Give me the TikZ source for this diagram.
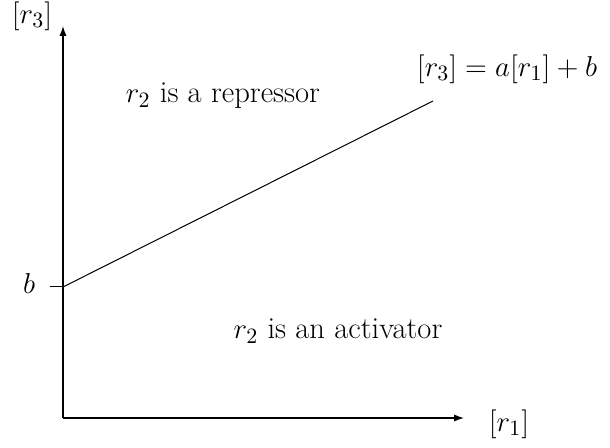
\documentclass[tikz,border=0pt]{standalone}
\usetikzlibrary{arrows.meta}
\begin{document}
\begin{tikzpicture}[x=0.5pt,y=-0.5pt,
  axis/.style={line width=0.6pt,-{Latex[length=5pt,width=3.6pt]}},
  lbl/.style={inner sep=0pt,font=\fontsize{15.3}{18}\selectfont}]
\useasboundingbox (0,0) rectangle (610,448);
\coordinate (O) at (63,418);
\coordinate (Y) at (63,26);
\coordinate (X) at (464,418);
\coordinate (B) at (63,287);
\coordinate (Bt) at (50,287);
\coordinate (E) at (433,101);
\draw[axis] (O) -- (Y);
\draw[axis] (O) -- (X);
\draw[line width=0.5pt] (Bt) -- (B);
\draw[line width=0.5pt] (B) -- (E);
\node[lbl] (ly) at (32,16) {$[r_3]$};
\node[lbl] (lx) at (509,424) {$[r_1]$};
\node[lbl] (lb) at (29,284) {$b$};
\node[lbl] (rep) at (223,96) {$r_2$ is a repressor};
\node[lbl] (eq) at (507,69) {$[r_3]=a[r_1]+b$};
\node[lbl] (act) at (338,331) {$r_2$ is an activator};
\end{tikzpicture}
\end{document}
